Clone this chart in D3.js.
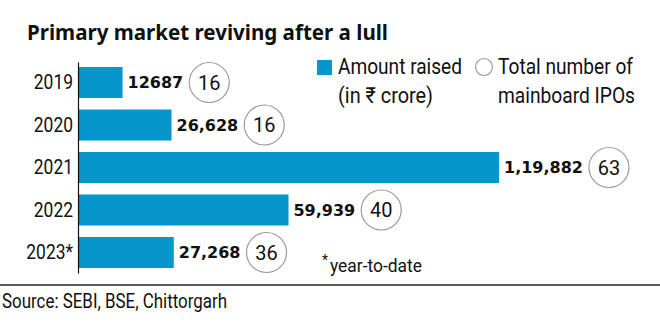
<!DOCTYPE html>
<html>
<head>
<meta charset="utf-8">
<script src="https://cdn.jsdelivr.net/npm/d3@7"></script>
<style>
  html, body { margin: 0; padding: 0; background: #fff; }
  svg { display: block; }
</style>
</head>
<body>
<svg id="chart" width="660" height="330"></svg>
<script>
  'use strict';

  // data
  var years = ['2019', '2020', '2021', '2022', '2023*'];
  var amounts = [12687, 26628, 119882, 59939, 27268];
  var amountLabels = ['12687', '26,628', '1,19,882', '59,939', '27,268'];
  var ipoCounts = [16, 16, 63, 40, 36];

  var blue = '#0596cb';
  var font = "'Roboto', sans-serif";
  var svg = d3.select('#chart');

  // squeeze text horizontally (the original uses a condensed face)
  function squeezeTo(sel, width) {
    sel.attr('textLength', width).attr('lengthAdjust', 'spacingAndGlyphs');
  }
  function squeezeBy(sel, factor) {
    sel.each(function() {
      var len = this.getComputedTextLength();
      d3.select(this)
        .attr('textLength', (len * factor).toFixed(1))
        .attr('lengthAdjust', 'spacingAndGlyphs');
    });
  }

  var rows = years.map(function(d, i) {
    return {year: d, amount: amounts[i], label: amountLabels[i], count: ipoCounts[i]};
  });

  var x = d3.scaleLinear()
    .domain([0, d3.max(amounts)])
    .range([78, 499]);
  var y = d3.scaleBand()
    .domain(years)
    .range([62, 273])
    .paddingInner(0.27)
    .paddingOuter(0.118);

  // title
  var title = svg.append('text')
    .attr('x', 27)
    .attr('y', 40)
    .attr('font-family', "'Noto Sans', sans-serif")
    .attr('font-weight', 'bold')
    .attr('font-size', 20.5)
    .attr('fill', '#111')
    .text('Primary market reviving after a lull');
  squeezeTo(title, 361);

  // bars
  svg.selectAll('.bar')
    .data(rows)
    .enter()
    .append('rect')
    .attr('class', 'bar')
    .attr('x', x(0))
    .attr('y', function(d) { return y(d.year); })
    .attr('width', function(d) { return x(d.amount) - x(0); })
    .attr('height', y.bandwidth())
    .attr('fill', blue);

  // y axis
  var yAxis = svg.append('g')
    .attr('transform', 'translate(' + x(0) + ',0)')
    .call(d3.axisLeft(y).tickSize(0).tickSizeOuter(0).tickPadding(5));
  yAxis.select('.domain')
    .attr('stroke', '#111')
    .attr('stroke-width', 1.2);
  var yearText = yAxis.selectAll('text')
    .attr('font-family', font)
    .attr('font-size', 21)
    .attr('fill', '#111');
  squeezeBy(yearText, 0.83);

  // value labels + ipo circles
  var r = 20;
  var groups = svg.selectAll('.row')
    .data(rows)
    .enter()
    .append('g')
    .attr('class', 'row');

  groups.append('text')
    .attr('class', 'value')
    .attr('x', function(d) { return x(d.amount) + 5; })
    .attr('y', function(d) { return y(d.year) + y.bandwidth() / 2; })
    .attr('dy', '0.36em')
    .attr('font-family', "'DejaVu Sans', sans-serif")
    .attr('font-weight', 'bold')
    .attr('font-size', 16)
    .attr('fill', '#111')
    .text(function(d) { return d.label; });

  groups.each(function(d) {
    var w = d3.select(this).select('.value').node().getComputedTextLength();
    d.cx = x(d.amount) + 5 + w + 6 + r;
  });

  groups.append('circle')
    .attr('cx', function(d) { return d.cx; })
    .attr('cy', function(d) { return y(d.year) + y.bandwidth() / 2; })
    .attr('r', r)
    .attr('fill', '#fff')
    .attr('stroke', '#9a9a9a')
    .attr('stroke-width', 1.2);

  groups.append('text')
    .attr('x', function(d) { return d.cx; })
    .attr('y', function(d) { return y(d.year) + y.bandwidth() / 2; })
    .attr('dy', '0.36em')
    .attr('text-anchor', 'middle')
    .attr('font-family', font)
    .attr('font-size', 20)
    .attr('fill', '#111')
    .text(function(d) { return d.count; });

  // legend
  var legend = svg.append('g');
  legend.append('rect')
    .attr('x', 317)
    .attr('y', 60)
    .attr('width', 15)
    .attr('height', 15)
    .attr('fill', blue);
  legend.append('circle')
    .attr('cx', 484)
    .attr('cy', 67)
    .attr('r', 8.5)
    .attr('fill', '#fff')
    .attr('stroke', '#9a9a9a')
    .attr('stroke-width', 1.2);

  var legendLines = [
    {x: 338, y: 74, w: 124, text: 'Amount raised'},
    {x: 338, y: 103, w: 95, text: '(in \u20b9 crore)'},
    {x: 498, y: 74, w: 135, text: 'Total number of'},
    {x: 498, y: 103, w: 137, text: 'mainboard IPOs'}
  ];
  legend.selectAll('.legend-text')
    .data(legendLines)
    .enter()
    .append('text')
    .attr('class', 'legend-text')
    .attr('x', function(d) { return d.x; })
    .attr('y', function(d) { return d.y; })
    .attr('font-family', font)
    .attr('font-size', 22)
    .attr('fill', '#111')
    .attr('textLength', function(d) { return d.w; })
    .attr('lengthAdjust', 'spacingAndGlyphs')
    .text(function(d) { return d.text; });

  // footnote
  svg.append('text')
    .attr('x', 322)
    .attr('y', 265)
    .attr('font-family', font)
    .attr('font-size', 14)
    .attr('fill', '#111')
    .text('*');
  var note = svg.append('text')
    .attr('x', 330)
    .attr('y', 272)
    .attr('font-family', font)
    .attr('font-size', 18)
    .attr('fill', '#111')
    .text('year-to-date');
  squeezeTo(note, 92);

  // rule + source
  svg.append('line')
    .attr('x1', 0)
    .attr('x2', 660)
    .attr('y1', 285)
    .attr('y2', 285)
    .attr('stroke', '#222')
    .attr('stroke-width', 1.6);

  var source = svg.append('text')
    .attr('x', 2)
    .attr('y', 308)
    .attr('font-family', font)
    .attr('font-size', 20)
    .attr('fill', '#111')
    .text('Source: SEBI, BSE, Chittorgarh');
  squeezeTo(source, 225);
</script>
</body>
</html>
